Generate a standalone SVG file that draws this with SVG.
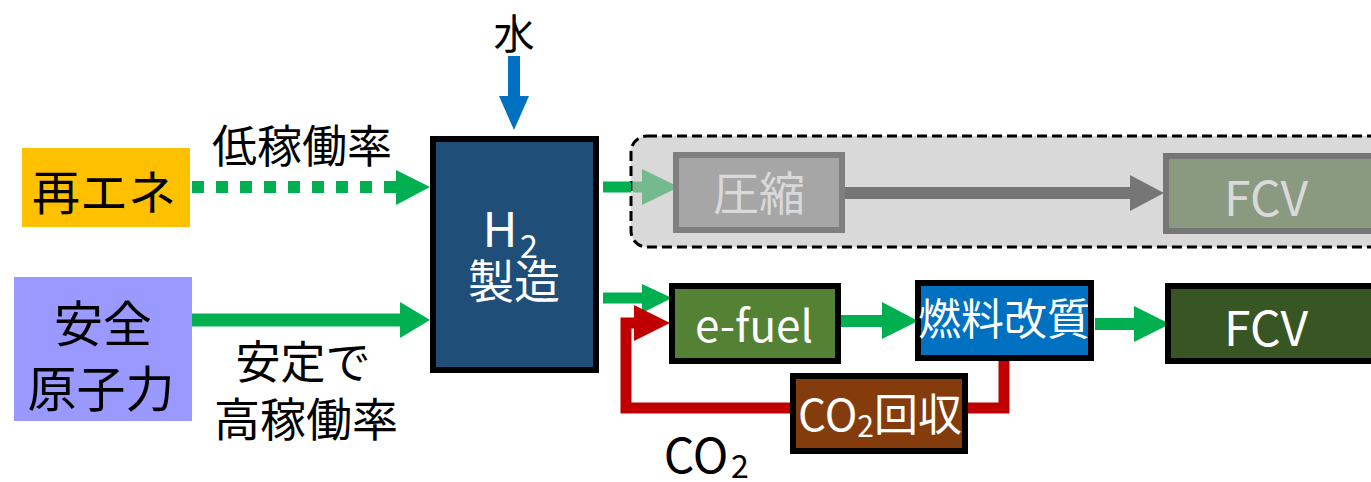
<svg xmlns="http://www.w3.org/2000/svg" width="1371" height="482" viewBox="0 0 1371 482">
<defs>
<style>
text{font-family:"Noto Sans CJK JP","Noto Sans",sans-serif;dominant-baseline:central;text-anchor:middle}
.k{fill:#000}
.w{fill:#fff}
.box{stroke:#000;stroke-width:6}
</style>
</defs>
<rect width="1371" height="482" fill="#fff"/>
<g id="connectors">
<line x1="192" y1="187" x2="398" y2="187" stroke="#00B050" stroke-width="12" stroke-dasharray="12 12"/>
<polygon points="396,170 430,187 396,205" fill="#00B050"/>
<line x1="192" y1="320" x2="402" y2="320" stroke="#00B050" stroke-width="13"/>
<polygon points="400,302 430,320 400,338" fill="#00B050"/>
<line x1="514" y1="56" x2="514" y2="98" stroke="#0070C0" stroke-width="12"/>
<polygon points="499,96 529,96 514,130" fill="#0070C0"/>
<line x1="603" y1="298" x2="645" y2="298" stroke="#00B050" stroke-width="11"/>
<polygon points="642,284 672,298 642,313" fill="#00B050"/>
<polyline points="1004,358 1004,408 626,408 626,323 640,323" fill="none" stroke="#C00000" stroke-width="11"/>
<polygon points="634,305 670,323 634,341" fill="#C00000"/>
<line x1="841" y1="321" x2="884" y2="321" stroke="#00B050" stroke-width="12"/>
<polygon points="882,302 918,321 882,339" fill="#00B050"/>
<line x1="1095" y1="324" x2="1136" y2="324" stroke="#00B050" stroke-width="12"/>
<polygon points="1134,306 1170,324 1134,342" fill="#00B050"/>
</g>
<g id="renewable"><rect x="22" y="148" width="168" height="79" fill="#FFC000"/><text x="104" y="189" font-size="48" class="k">再エネ</text></g>
<g id="nuclear"><rect x="14" y="277" width="178" height="144" fill="#9999FF"/><text x="103" y="320" font-size="49" class="k">安全</text><text x="101" y="385" font-size="49" class="k">原子力</text></g>
<text x="302" y="143" font-size="45" class="k">低稼働率</text>
<text x="303" y="359" font-size="45" class="k">安定で</text>
<text x="306" y="416" font-size="46" class="k">高稼働率</text>
<text x="514" y="31" font-size="41" class="k">水</text>
<g id="h2"><rect x="433" y="139" width="163" height="231" fill="#1F4E79" class="box"/>
<text x="500" y="226" font-size="48" class="w">H</text>
<text x="529" y="244" font-size="32" class="w">2</text>
<text x="514" y="278" font-size="46" class="w">製造</text></g>
<g id="fcv-path-disabled">
<rect x="631" y="136" width="760" height="111" rx="16" fill="#D9D9D9" stroke="#000" stroke-width="3" stroke-dasharray="10 5"/>
<line x1="603" y1="187" x2="631" y2="187" stroke="#00B050" stroke-width="11"/>
<line x1="633" y1="187" x2="645" y2="187" stroke="#76B98F" stroke-width="11"/>
<polygon points="642,169 679,187 642,205" fill="#76B98F"/>
<line x1="845" y1="193" x2="1133" y2="193" stroke="#767676" stroke-width="12"/>
<polygon points="1130,175 1164,193 1130,211" fill="#767676"/>
<g id="compress"><rect x="676" y="155" width="166" height="75" fill="#A6A6A6" stroke="#7F7F7F" stroke-width="6"/><text x="759" y="190" font-size="46" fill="#D9D9D9">圧縮</text></g>
<g id="fcv-gray"><rect x="1166" y="156" width="230" height="75" fill="#8A9A80" stroke="#767676" stroke-width="6"/><text x="1266" y="195" font-size="48" fill="#D9D9D9">FCV</text></g>
</g>
<g id="efuel"><rect x="672" y="286" width="166" height="75" fill="#548235" class="box"/><text x="754" y="323" font-size="44" class="w">e-fuel</text></g>
<g id="reform"><rect x="918" y="283" width="173" height="75" fill="#0070C0" class="box"/><text x="1004" y="316" font-size="43" class="w">燃料改質</text></g>
<g id="fcv"><rect x="1168" y="286" width="230" height="75" fill="#375623" class="box"/><text x="1266" y="325" font-size="48" class="w">FCV</text></g>
<g id="co2capture"><rect x="793" y="376" width="172" height="75" fill="#843C0C" class="box"/><text x="880" y="412" font-size="44" class="w">CO<tspan font-size="30" dy="12">2</tspan><tspan dy="-12">回収</tspan></text></g>
<g id="co2label"><text x="696" y="452" font-size="48" class="k">CO</text><text x="740" y="464" font-size="32" class="k">2</text></g>
</svg>
